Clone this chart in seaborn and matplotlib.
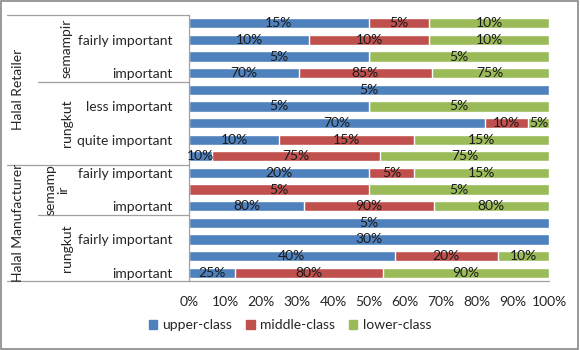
import numpy as np
import pandas as pd
import matplotlib
matplotlib.use("Agg")
import matplotlib.pyplot as plt
import seaborn as sns
from matplotlib.patches import Patch, Rectangle

# rows from top to bottom (Excel shows only every other category label)
row_labels = ["", "fairly important", "", "important",
              "", "less important", "", "quite important", "",
              "fairly important", "", "important",
              "", "fairly important", "", "important"]
upper = [15, 10, 5, 70, 5, 5, 70, 10, 10, 20, 0, 80, 5, 30, 40, 25]
middle = [5, 10, 0, 85, 0, 0, 10, 15, 75, 5, 5, 90, 0, 0, 20, 80]
lower = [10, 10, 5, 75, 0, 5, 5, 15, 75, 15, 5, 80, 0, 0, 10, 90]
series = ["upper-class", "middle-class", "lower-class"]
colors = ["#4F81BD", "#C0504D", "#9BBB59"]
places = [("semampir", 0, 3), ("rungkut", 4, 8), ("semamp\nir", 9, 11), ("rungkut", 12, 15)]
actors = [("Halal Retailer", 0, 8), ("Halal Manufacturer", 9, 15)]
x_ticks = [0, 10, 20, 30, 40, 50, 60, 70, 80, 90, 100]

sns.set_style("white")
plt.rcParams['font.family'] = ['Lato', 'DejaVu Sans']
FS = 10

n = len(row_labels)
rows = [f"r{i}" for i in range(n)]
df = pd.DataFrame({"row": rows, series[0]: upper, series[1]: middle, series[2]: lower})
total = df[series].sum(axis=1)
share = df[series].div(total, axis=0) * 100
cum = share.cumsum(axis=1)

fig = plt.figure(figsize=(5.8, 3.5), dpi=100)
ax = fig.add_axes([189 / 580, 1 - 281 / 350, 360 / 580, 266 / 350])

# stacked via cumulative sums, drawn back to front
for s, c in reversed(list(zip(series, colors))):
    sns.barplot(x=cum[s], y=df["row"], order=rows, orient="h", color=c,
                saturation=1, width=0.62, errorbar=None, ax=ax)

for i in range(n):
    left = 0
    for s in series:
        v = df.loc[i, s]
        w = share.loc[i, s]
        if v > 0:
            ax.text(left + w / 2, i, f"{v}%", ha="center", va="center",
                    fontsize=FS, color="#1a1a1a")
        left += w

ax.set_xlim(0, 100)
ax.set_ylim(n - 0.5, -0.5)
ax.set_xticks(x_ticks)
ax.set_xticklabels([f"{t}%" for t in x_ticks], fontsize=FS)
ax.set_yticks(range(n))
ax.set_yticklabels(row_labels, fontsize=FS)
ax.tick_params(axis="y", length=0, pad=12)
ax.tick_params(axis="x", length=0, pad=11)
ax.set_xlabel("")
ax.set_ylabel("")
for sp in ["top", "right"]:
    ax.spines[sp].set_visible(False)
for sp in ["left", "bottom"]:
    ax.spines[sp].set_color("#A0A0A0")
    ax.spines[sp].set_linewidth(0.9)

# multi-level category axis
tr = ax.get_yaxis_transform()
x_outer = (7 - 189) / 360
x_inner = (38 - 189) / 360
line_kw = dict(color="#A0A0A0", lw=0.9, transform=tr, clip_on=False)
ax.plot([x_outer, 0], [-0.5, -0.5], **line_kw)
ax.plot([x_outer, 0], [8.5, 8.5], **line_kw)
ax.plot([x_outer, 0], [n - 0.5, n - 0.5], **line_kw)
for _, a, b in places[:-1]:
    if b != 8:
        ax.plot([x_inner, 0], [b + 0.5, b + 0.5], **line_kw)

for name, a, b in places:
    xp = (57 - 189) / 360 if "\n" in name else (67 - 189) / 360
    ax.text(xp, (a + b) / 2, name, rotation=90, ha="center", va="center",
            fontsize=FS, transform=tr, linespacing=1.0)
for name, a, b in actors:
    ax.text((18 - 189) / 360, (a + b) / 2, name, rotation=90, ha="center",
            va="center", fontsize=FS, transform=tr)

handles = [Patch(facecolor=c, edgecolor=c) for c in colors]
fig.legend(handles, series, loc="center", bbox_to_anchor=(0.5, 1 - 325 / 350),
           ncol=3, frameon=False, fontsize=FS, handlelength=0.6, handleheight=0.6,
           handletextpad=0.4, columnspacing=1.0)

fig.add_artist(Rectangle((0.001, 0.002), 0.996, 0.995, transform=fig.transFigure,
                         fill=False, ec="#888888", lw=1.2))

fig.savefig("out.png", dpi=100)
